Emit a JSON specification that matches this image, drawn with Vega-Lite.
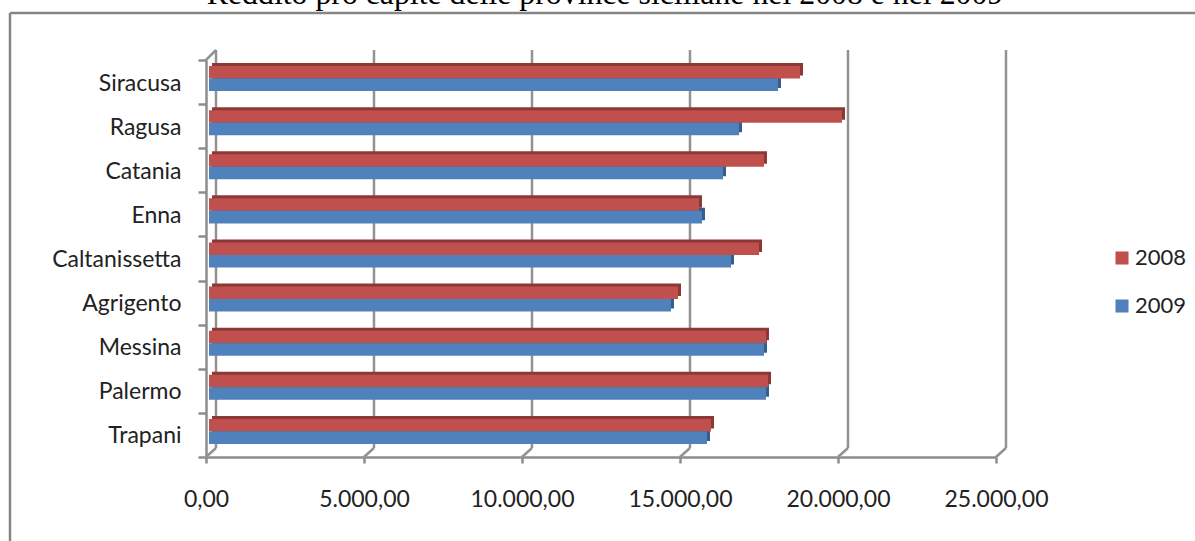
{
  "$schema": "https://vega.github.io/schema/vega-lite/v6.json",
  "width": 790,
  "height": 397,
  "autosize": "none",
  "padding": {"left": 206, "top": 60, "right": 199, "bottom": 84},
  "background": "white",
  "title": {
    "text": "Reddito pro capite delle province siciliane nel 2008 e nel 2009",
    "font": "Liberation Serif",
    "fontSize": 31.8,
    "fontWeight": "normal",
    "color": "black",
    "anchor": "middle",
    "dx": 4,
    "offset": 1
  },
  "config": {"view": {"stroke": null}},
  "datasets": {
    "income": [
      {"province": "Siracusa", "year": "2008", "income": 18703},
      {"province": "Siracusa", "year": "2009", "income": 18006},
      {"province": "Ragusa", "year": "2008", "income": 20032},
      {"province": "Ragusa", "year": "2009", "income": 16772},
      {"province": "Catania", "year": "2008", "income": 17563},
      {"province": "Catania", "year": "2009", "income": 16266},
      {"province": "Enna", "year": "2008", "income": 15506},
      {"province": "Enna", "year": "2009", "income": 15601},
      {"province": "Caltanissetta", "year": "2008", "income": 17405},
      {"province": "Caltanissetta", "year": "2009", "income": 16519},
      {"province": "Agrigento", "year": "2008", "income": 14842},
      {"province": "Agrigento", "year": "2009", "income": 14620},
      {"province": "Messina", "year": "2008", "income": 17627},
      {"province": "Messina", "year": "2009", "income": 17563},
      {"province": "Palermo", "year": "2008", "income": 17690},
      {"province": "Palermo", "year": "2009", "income": 17627},
      {"province": "Trapani", "year": "2008", "income": 15886},
      {"province": "Trapani", "year": "2009", "income": 15759}
    ],
    "ticks": [
      {"tick": 0, "back": 316},
      {"tick": 5000, "back": 5316},
      {"tick": 10000, "back": 10316},
      {"tick": 15000, "back": 15316},
      {"tick": 20000, "back": 20316},
      {"tick": 25000, "back": 25316}
    ]
  },
  "resolve": {"scale": {"y": "independent", "color": "independent"}},
  "layer": [
    {
      "description": "Front x axis and province axis",
      "data": {"name": "income"},
      "mark": {"type": "bar", "opacity": 0},
      "encoding": {
        "x": {
          "field": "income",
          "type": "quantitative",
          "scale": {"domain": [0, 25000], "nice": false},
          "axis": {
            "title": null,
            "grid": false,
            "values": [0, 5000, 10000, 15000, 20000, 25000],
            "labelExpr": "replace(replace(replace(format(datum.value, ',.2f'), ',', '_'), '.', ','), '_', '.')",
            "labelFont": "Lato",
            "labelFontSize": 23,
            "labelColor": "#222222",
            "labelPadding": 25,
            "labelFlush": false,
            "labelOverlap": false,
            "domainColor": "#8c8c8c",
            "domainWidth": 2.5,
            "tickColor": "#8c8c8c",
            "tickWidth": 2.5,
            "tickSize": 6
          }
        },
        "y": {
          "field": "province",
          "type": "nominal",
          "sort": ["Siracusa", "Ragusa", "Catania", "Enna", "Caltanissetta", "Agrigento", "Messina", "Palermo", "Trapani"],
          "scale": {"paddingInner": 0, "paddingOuter": 0},
          "axis": {
            "title": null,
            "orient": "left",
            "tickBand": "extent",
            "labelFont": "Lato",
            "labelFontSize": 23,
            "labelColor": "#222222",
            "labelPadding": 17,
            "labelOffset": 1,
            "domainColor": "#8c8c8c",
            "domainWidth": 2.5,
            "tickColor": "#8c8c8c",
            "tickWidth": 2.5,
            "tickSize": 8
          }
        }
      }
    },
    {
      "description": "Chart frame, back wall and floor edges, on a shared numeric height scale",
      "layer": [
        {
          "data": {"values": [{"edge": "top"}]},
          "mark": {"type": "rule", "color": "#868686", "strokeWidth": 2.5, "clip": false},
          "encoding": {
            "x": {"datum": -6203, "type": "quantitative"},
            "x2": {"datum": 31297},
            "y": {"datum": 444, "type": "quantitative", "scale": {"domain": [0, 397], "nice": false}, "axis": null},
            "y2": {"datum": 444}
          }
        },
        {
          "data": {"values": [{"edge": "left"}]},
          "mark": {"type": "rule", "color": "#868686", "strokeWidth": 2.5, "clip": false},
          "encoding": {
            "x": {"datum": -6203, "type": "quantitative"},
            "y": {"datum": 444, "type": "quantitative", "axis": null},
            "y2": {"datum": -84}
          }
        },
        {
          "data": {"name": "ticks"},
          "mark": {"type": "rule", "color": "#929292", "strokeWidth": 2.5},
          "encoding": {
            "x": {"field": "back", "type": "quantitative"},
            "y": {"datum": 9, "type": "quantitative", "axis": null},
            "y2": {"datum": 407}
          }
        },
        {
          "data": {"name": "ticks"},
          "mark": {"type": "rule", "color": "#929292", "strokeWidth": 2.5},
          "encoding": {
            "x": {"field": "tick", "type": "quantitative"},
            "x2": {"field": "back"},
            "y": {"datum": 0, "type": "quantitative", "axis": null},
            "y2": {"datum": 9}
          }
        },
        {
          "data": {"values": [{"edge": "corner"}]},
          "mark": {"type": "rule", "color": "#929292", "strokeWidth": 2.5},
          "encoding": {
            "x": {"datum": 0, "type": "quantitative"},
            "x2": {"datum": 316},
            "y": {"datum": 397, "type": "quantitative", "axis": null},
            "y2": {"datum": 407}
          }
        }
      ]
    },
    {
      "description": "Shaded top and end faces of the bars",
      "data": {"name": "income"},
      "mark": {"type": "bar", "xOffset": 6, "x2Offset": 4},
      "encoding": {
        "x": {"field": "income", "type": "quantitative"},
        "y": {
          "field": "province",
          "type": "nominal",
          "sort": ["Siracusa", "Ragusa", "Catania", "Enna", "Caltanissetta", "Agrigento", "Messina", "Palermo", "Trapani"],
          "scale": {"paddingInner": 0.433, "paddingOuter": 0.2165, "align": 0.158},
          "axis": null
        },
        "yOffset": {"field": "year", "type": "nominal", "sort": ["2008", "2009"]},
        "color": {
          "field": "year",
          "type": "nominal",
          "scale": {"domain": ["2008", "2009"], "range": ["#8c3836", "#385d8a"]},
          "legend": null
        }
      }
    },
    {
      "description": "Front faces of the bars",
      "data": {"name": "income"},
      "mark": {"type": "bar", "xOffset": 3, "x2Offset": 3},
      "encoding": {
        "x": {"field": "income", "type": "quantitative"},
        "y": {
          "field": "province",
          "type": "nominal",
          "sort": ["Siracusa", "Ragusa", "Catania", "Enna", "Caltanissetta", "Agrigento", "Messina", "Palermo", "Trapani"],
          "scale": {"paddingInner": 0.433, "paddingOuter": 0.2165, "align": 0.316},
          "axis": null
        },
        "yOffset": {"field": "year", "type": "nominal", "sort": ["2008", "2009"]},
        "color": {
          "field": "year",
          "type": "nominal",
          "scale": {"domain": ["2008", "2009"], "range": ["#c0504d", "#4f81bd"]},
          "legend": {
            "title": null,
            "orient": "none",
            "legendX": 905,
            "legendY": 187,
            "symbolType": "square",
            "symbolSize": 170,
            "symbolStrokeWidth": 0,
            "symbolOpacity": 1,
            "labelFont": "Lato",
            "labelFontSize": 22,
            "labelColor": "#222222",
            "labelOffset": 2,
            "rowPadding": 26
          }
        }
      }
    }
  ]
}
